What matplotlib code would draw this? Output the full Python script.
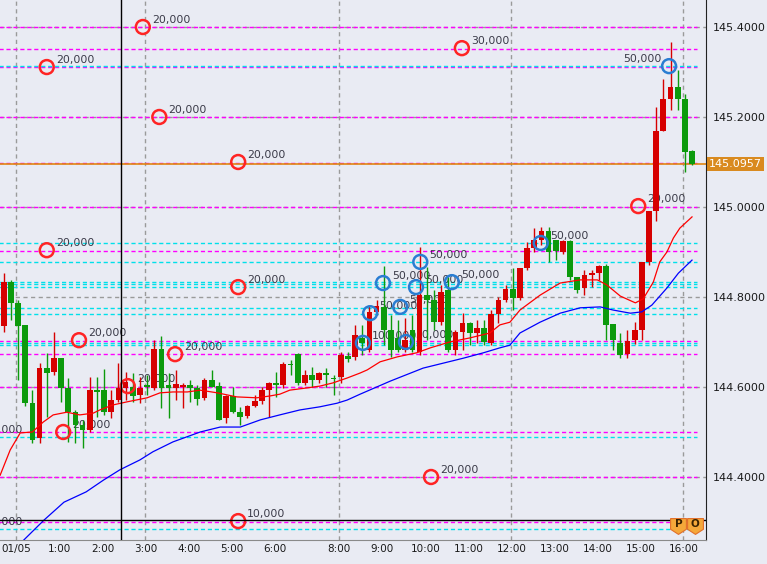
"""USD/JPY 10-minute candles with MAs, order lines and position markers."""
import matplotlib
matplotlib.use("Agg")
import matplotlib.pyplot as plt
import matplotlib.transforms as mtransforms

# --- candles (bar index 0..96) ---
opens = [144.736, 144.833, 144.787, 144.738, 144.564, 144.487, 144.642, 144.633, 144.664, 144.598,
         144.544, 144.516, 144.504, 144.593, 144.593, 144.544, 144.571, 144.598, 144.600, 144.582,
         144.604, 144.598, 144.684, 144.604, 144.598, 144.600, 144.604, 144.598, 144.576, 144.616,
         144.602, 144.531, 144.580, 144.544, 144.536, 144.558, 144.569, 144.593, 144.609, 144.604,
         144.651, 144.673, 144.609, 144.627, 144.616, 144.631, 144.620, 144.622, 144.669, 144.667,
         144.709, 144.682, 144.767, 144.778, 144.727, 144.709, 144.682, 144.727, 144.678, 144.804,
         144.793, 144.744, 144.816, 144.682, 144.722, 144.742, 144.720, 144.731, 144.698, 144.762,
         144.793, 144.818, 144.798, 144.864, 144.909, 144.927, 144.947, 144.927, 144.900, 144.924,
         144.844, 144.820, 144.849, 144.853, 144.869, 144.740, 144.698, 144.673, 144.704, 144.727,
         144.878, 144.991, 145.169, 145.240, 145.267, 145.240, 145.124]
highs = [144.853, 144.838, 144.793, 144.738, 144.593, 144.653, 144.676, 144.722, 144.664, 144.620,
         144.549, 144.527, 144.622, 144.622, 144.640, 144.593, 144.653, 144.633, 144.631, 144.622,
         144.627, 144.704, 144.713, 144.631, 144.638, 144.609, 144.616, 144.604, 144.620, 144.638,
         144.611, 144.582, 144.600, 144.556, 144.560, 144.582, 144.600, 144.611, 144.633, 144.656,
         144.660, 144.676, 144.638, 144.644, 144.633, 144.642, 144.627, 144.678, 144.678, 144.738,
         144.738, 144.782, 144.793, 144.869, 144.760, 144.749, 144.753, 144.760, 144.911, 144.867,
         144.816, 144.827, 144.844, 144.727, 144.764, 144.744, 144.749, 144.749, 144.771, 144.800,
         144.827, 144.864, 144.864, 144.922, 144.953, 144.956, 144.956, 144.927, 144.927, 144.927,
         144.844, 144.860, 144.860, 144.871, 144.873, 144.740, 144.720, 144.727, 144.744, 144.878,
         144.991, 145.222, 145.284, 145.367, 145.304, 145.251, 145.127]
lows = [144.722, 144.749, 144.616, 144.558, 144.476, 144.476, 144.533, 144.627, 144.567, 144.478,
        144.476, 144.464, 144.500, 144.533, 144.538, 144.531, 144.567, 144.571, 144.567, 144.564,
        144.582, 144.593, 144.553, 144.531, 144.571, 144.553, 144.567, 144.560, 144.571, 144.600,
        144.527, 144.520, 144.542, 144.516, 144.531, 144.556, 144.562, 144.533, 144.578, 144.598,
        144.627, 144.604, 144.604, 144.600, 144.609, 144.600, 144.582, 144.609, 144.656, 144.660,
        144.671, 144.678, 144.760, 144.693, 144.667, 144.678, 144.678, 144.678, 144.671, 144.704,
        144.727, 144.738, 144.678, 144.671, 144.682, 144.693, 144.698, 144.693, 144.693, 144.742,
        144.789, 144.771, 144.793, 144.860, 144.900, 144.916, 144.878, 144.882, 144.896, 144.838,
        144.809, 144.804, 144.822, 144.838, 144.704, 144.682, 144.664, 144.664, 144.696, 144.704,
        144.871, 144.969, 145.169, 145.216, 145.216, 145.078, 145.093]
closes = [144.833, 144.787, 144.736, 144.564, 144.482, 144.642, 144.631, 144.664, 144.598, 144.544,
          144.516, 144.504, 144.593, 144.589, 144.544, 144.571, 144.598, 144.611, 144.580, 144.598,
          144.600, 144.684, 144.598, 144.598, 144.607, 144.604, 144.598, 144.573, 144.616, 144.600,
          144.527, 144.580, 144.544, 144.533, 144.558, 144.569, 144.593, 144.609, 144.604, 144.651,
          144.649, 144.609, 144.627, 144.616, 144.631, 144.627, 144.618, 144.671, 144.662, 144.716,
          144.698, 144.767, 144.780, 144.727, 144.682, 144.682, 144.704, 144.682, 144.804, 144.793,
          144.744, 144.811, 144.682, 144.722, 144.742, 144.720, 144.731, 144.700, 144.762, 144.793,
          144.818, 144.798, 144.864, 144.909, 144.927, 144.947, 144.900, 144.902, 144.924, 144.844,
          144.816, 144.849, 144.853, 144.869, 144.738, 144.704, 144.671, 144.702, 144.727, 144.878,
          144.991, 145.169, 145.240, 145.267, 145.240, 145.122, 145.096]

# --- moving averages (bar index, price) ---
ma_fast_x = [-0.5, 0.9, 2.3, 4.0, 5.5, 6.9, 8.8, 10.6, 12.5, 13.4, 15.2, 17.2, 20.0, 21.8, 23.6,
             25.6, 27.4, 29.8, 32.5, 35.3, 37.1, 38.5, 39.9, 42.3, 44.1, 45.9, 47.9, 49.7, 50.7,
             52.5, 54.9, 57.6, 59.5, 62.2, 65.0, 67.8, 69.2, 70.6, 72.0, 74.8, 77.6, 80.4, 82.8,
             84.1, 86.0, 88.1, 89.2, 90.6, 91.5, 92.5, 93.4, 94.3, 96.0]
ma_fast_y = [144.404, 144.460, 144.498, 144.500, 144.522, 144.538, 144.544, 144.538, 144.542,
             144.549, 144.560, 144.567, 144.576, 144.587, 144.589, 144.589, 144.593, 144.587,
             144.578, 144.576, 144.580, 144.584, 144.593, 144.598, 144.602, 144.609, 144.620,
             144.631, 144.638, 144.656, 144.667, 144.676, 144.687, 144.700, 144.709, 144.720,
             144.738, 144.744, 144.771, 144.804, 144.831, 144.838, 144.838, 144.827, 144.802,
             144.787, 144.796, 144.833, 144.878, 144.900, 144.931, 144.953, 144.978]
ma_slow_x = [2.8, 5.6, 8.4, 11.5, 13.9, 16.2, 19.0, 20.8, 23.6, 27.4, 30.2, 33.0, 35.8, 38.5,
             41.3, 44.1, 46.5, 47.9, 49.7, 53.9, 58.5, 61.3, 64.1, 66.9, 69.2, 70.6, 72.0, 74.8,
             77.6, 80.4, 83.2, 85.0, 87.4, 89.0, 90.4, 92.5, 94.1, 96.0]
ma_slow_y = [144.260, 144.304, 144.344, 144.367, 144.393, 144.416, 144.438, 144.456, 144.478,
             144.500, 144.511, 144.511, 144.527, 144.538, 144.549, 144.556, 144.564, 144.571,
             144.584, 144.613, 144.642, 144.653, 144.664, 144.676, 144.687, 144.693, 144.720,
             144.744, 144.764, 144.776, 144.778, 144.771, 144.764, 144.767, 144.782, 144.820,
             144.853, 144.882]

# --- order lines ---
magenta_levels = [145.400, 145.351, 145.311, 145.200, 145.098, 145.000, 144.902, 144.702,
                  144.673, 144.600, 144.500, 144.400, 144.300]
cyan_levels = [145.313, 144.920, 144.878, 144.833, 144.828, 144.822, 144.776, 144.762,
               144.698, 144.694, 144.489, 144.284]

# --- position circles ---
red_x = [6.0, 19.4, 21.7, 32.7, 63.9, 6.0, 32.7, 10.5, 23.9, 17.3, 8.3, -4.0, 59.6, 32.7, 88.5, -4.0]
red_y = [145.311, 145.400, 145.200, 145.100, 145.353, 144.904, 144.822, 144.704, 144.673,
         144.602, 144.500, 144.489, 144.400, 144.302, 145.002, 144.284]
red_lbl = ["20,000", "20,000", "20,000", "20,000", "30,000", "20,000", "20,000", "20,000",
           "20,000", "20,000", "20,000", "20,000", "20,000", "10,000", "20,000", "20,000"]
blue_x = [92.8, 74.9, 58.1, 52.9, 57.5, 62.5, 51.1, 55.3, 50.1, 56.1]
blue_y = [145.313, 144.920, 144.878, 144.831, 144.822, 144.833, 144.764, 144.778, 144.698, 144.700]
blue_lbl = ["50,000", "50,000", "50,000", "50,000", "50,000", "50,000", "50,000", "50,000",
            "100,000", "50,000"]

# --- axes ---
time_ticks = [2, 8, 14, 20, 26, 32, 38, 47, 53, 59, 65, 71, 77, 83, 89, 95]
time_labels = ["01/05", "1:00", "2:00", "3:00", "4:00", "5:00", "6:00", "8:00", "9:00",
               "10:00", "11:00", "12:00", "13:00", "14:00", "15:00", "16:00"]
grid_times = [2, 20, 47, 71, 95]
price_ticks = [144.4, 144.6, 144.8, 145.0, 145.2, 145.4]
last_price = 145.0957
cross_x, cross_y = 16.36, 144.304

BG = "#e9ebf3"
UP, DOWN = "#d60000", "#0c9a0c"
TXT = "#3a3a48"


def main():
    fig = plt.figure(figsize=(7.67, 5.64), dpi=100, facecolor=BG)
    ax = fig.add_axes([0, 24 / 564, 706 / 767, 540 / 564], facecolor=BG)
    ax.set_xlim(-0.52, 97.95)
    ax.set_ylim(144.26, 145.46)

    # grid
    for p in price_ticks:
        ax.axhline(p, color="#9a9a9a", lw=1, dashes=(3, 2.5), zorder=0.5)
    for t in grid_times:
        ax.axvline(t - 0.3, color="#9a9a9a", lw=1, dashes=(3, 2.5), zorder=0.5)

    # order lines stop a little short of the price axis
    x_end = 96.7
    ax.hlines(magenta_levels, -1, x_end, color="#ff00ff", lw=1, linestyles=(0, (3, 2)), zorder=1)
    ax.hlines(cyan_levels, -1, x_end, color="#00e0ea", lw=1, linestyles=(0, (3, 2)), zorder=1)
    ax.axhline(last_price, color="#e0860f", lw=1.2, zorder=1.2)

    # labels of the circles sit under the candles
    off_r = mtransforms.offset_copy(ax.transData, fig=fig, x=6.5, y=5, units="points")
    off_l = mtransforms.offset_copy(ax.transData, fig=fig, x=-5.5, y=5, units="points")
    for x, y, s in zip(red_x, red_y, red_lbl):
        ax.text(x, y, s, transform=off_r, fontsize=7.8, color=TXT, va="center",
                ha="left", clip_on=True, zorder=2)
    for i, (x, y, s) in enumerate(zip(blue_x, blue_y, blue_lbl)):
        left = i == 0
        ax.text(x, y, s, transform=off_l if left else off_r, fontsize=7.8, color=TXT,
                va="center", ha="right" if left else "left", clip_on=True, zorder=2)

    # candles
    xs = range(len(opens))
    for x, o, h, l, c in zip(xs, opens, highs, lows, closes):
        col = UP if c >= o else DOWN
        ax.vlines(x, l, h, color=col, lw=1, zorder=3)
        ax.bar(x, max(abs(c - o), 0.0015), bottom=min(o, c), width=0.8, color=col,
               lw=0, zorder=3.1)

    ax.plot(ma_fast_x, ma_fast_y, color="#ff0000", lw=0.9, zorder=4)
    ax.plot(ma_slow_x, ma_slow_y, color="#0000ff", lw=0.9, zorder=4)

    ax.scatter(red_x, red_y, s=100, facecolors="none", edgecolors="#ff2424", linewidths=1.8,
               zorder=5)
    ax.scatter(blue_x, blue_y, s=100, facecolors="none", edgecolors="#2a7dd2", linewidths=1.8,
               zorder=5)

    # crosshair
    ax.axvline(cross_x, color="black", lw=1, zorder=6)
    ax.axhline(cross_y, color="black", lw=1, zorder=6)

    # P / O flags at the bottom right
    shield = [(-1, 1), (1, 1), (1, -0.35), (0, -1), (-1, -0.35), (-1, 1)]
    flag_tr = mtransforms.blended_transform_factory(ax.transData, ax.transAxes)
    for fx, s in zip([94.1, 96.4], ["P", "O"]):
        ax.scatter([fx], [0.026], s=130, marker=shield, facecolor="#f5a83a",
                   edgecolor="#e2702a", lw=0.8, transform=flag_tr, zorder=7, clip_on=False)
        ax.text(fx, 0.03, s, transform=flag_tr, fontsize=7.5, fontweight="bold",
                color="#3a2200", ha="center", va="center", zorder=8)

    # axes
    for side in ("top", "left"):
        ax.spines[side].set_visible(False)
    ax.spines["right"].set_color("#222222")
    ax.spines["bottom"].set_color("#8a8a8a")
    ax.yaxis.tick_right()
    ax.set_yticks(price_ticks)
    ax.set_yticklabels([f"{p:.4f}" for p in price_ticks])
    ax.set_xticks([t - 0.2 for t in time_ticks])
    ax.set_xticklabels(time_labels)
    ax.tick_params(axis="y", length=0, pad=5, labelsize=8, labelcolor="#1a1a1a")
    ax.tick_params(axis="x", length=0, pad=3, labelsize=7.5, labelcolor="#1a1a1a")

    # current price tag
    tag_tr = mtransforms.blended_transform_factory(ax.transAxes, ax.transData)
    ax.text(1.004, last_price, f"{last_price:.4f}", transform=tag_tr, fontsize=8,
            color="white", va="center", ha="left", clip_on=False, zorder=9,
            bbox=dict(boxstyle="square,pad=0.2", fc="#d98a1f", ec="none"))

    fig.savefig("out.png", dpi=100, facecolor=BG)


if __name__ == "__main__":
    main()
